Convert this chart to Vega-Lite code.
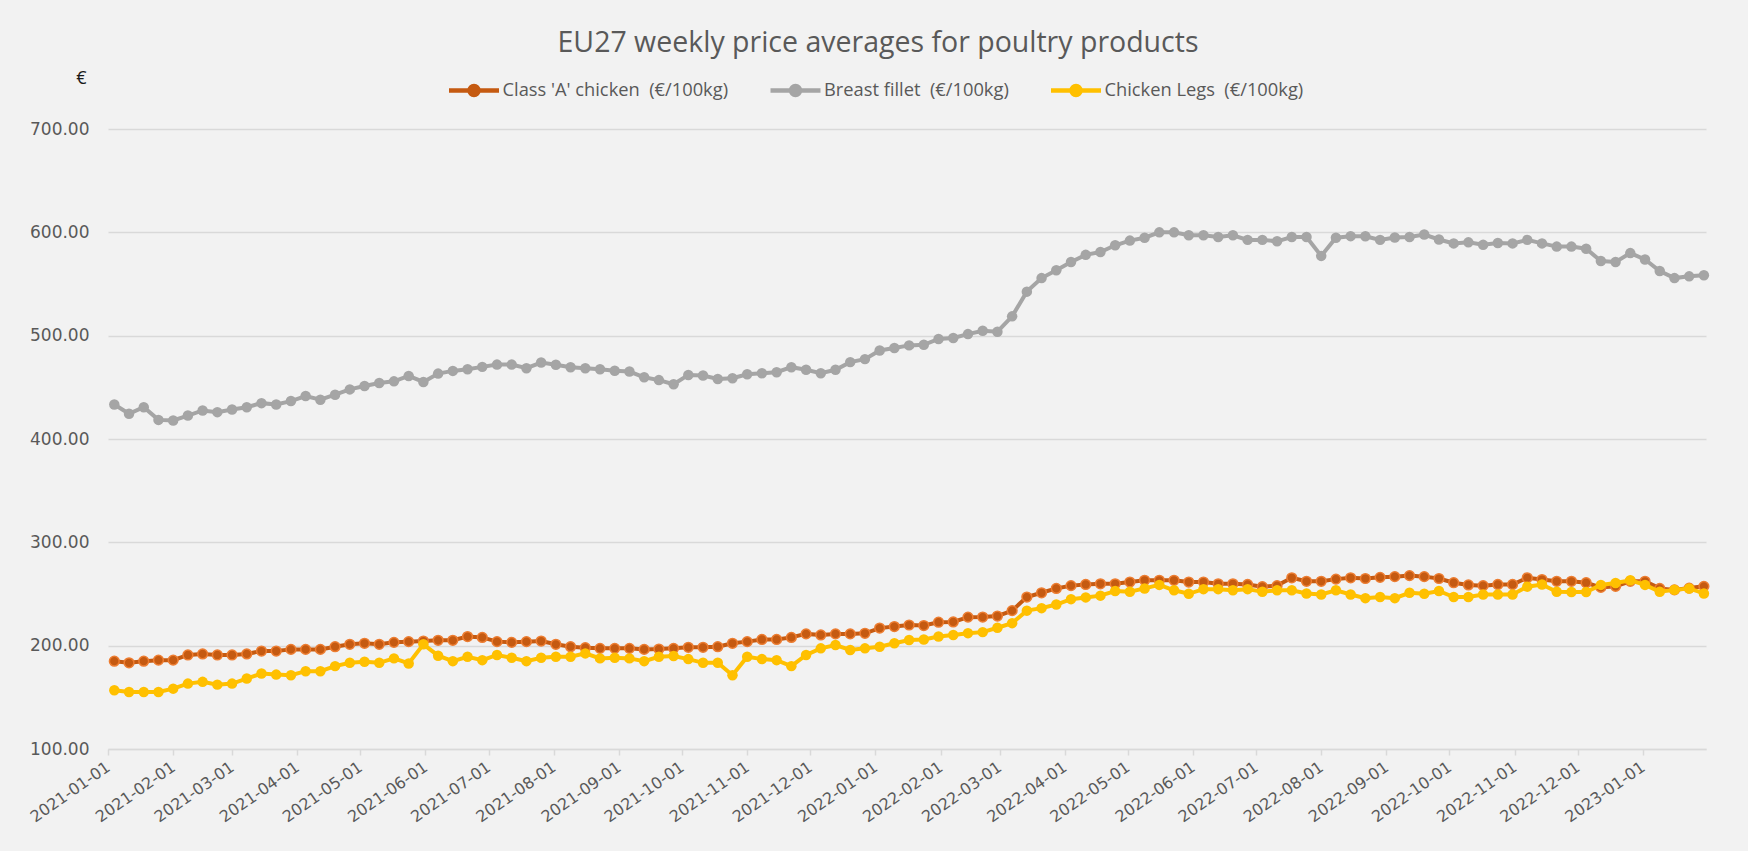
{
  "$schema": "https://vega.github.io/schema/vega-lite/v6.json",
  "width": 1598,
  "height": 620,
  "autosize": {"type": "none"},
  "padding": {"left": 108, "top": 129, "right": 42, "bottom": 102},
  "background": "#F2F2F2",
  "config": {
    "font": "Open Sans",
    "view": {"stroke": null}
  },
  "title": {
    "text": "EU27 weekly price averages for poultry products",
    "fontSize": 28.5,
    "fontWeight": "normal",
    "color": "#595959",
    "anchor": "middle",
    "frame": "group",
    "dx": -29,
    "offset": 6
  },
  "data": {
    "values": [
      {"d": "2021-01-04", "a": 185.0, "b": 433.4, "c": 156.8},
      {"d": "2021-01-11", "a": 183.4, "b": 424.4, "c": 155.2},
      {"d": "2021-01-18", "a": 185.0, "b": 430.8, "c": 155.2},
      {"d": "2021-01-25", "a": 186.0, "b": 418.5, "c": 155.2},
      {"d": "2021-02-01", "a": 186.0, "b": 417.9, "c": 158.4},
      {"d": "2021-02-08", "a": 191.0, "b": 422.7, "c": 163.3},
      {"d": "2021-02-15", "a": 192.0, "b": 427.6, "c": 165.0},
      {"d": "2021-02-22", "a": 191.0, "b": 426.0, "c": 162.3},
      {"d": "2021-03-01", "a": 191.0, "b": 428.6, "c": 163.3},
      {"d": "2021-03-08", "a": 192.0, "b": 430.8, "c": 168.2},
      {"d": "2021-03-15", "a": 194.8, "b": 434.7, "c": 173.0},
      {"d": "2021-03-22", "a": 194.8, "b": 433.4, "c": 172.0},
      {"d": "2021-03-29", "a": 196.4, "b": 436.7, "c": 171.4},
      {"d": "2021-04-05", "a": 196.4, "b": 441.6, "c": 175.3},
      {"d": "2021-04-12", "a": 196.4, "b": 438.0, "c": 175.3},
      {"d": "2021-04-19", "a": 199.0, "b": 442.9, "c": 180.2},
      {"d": "2021-04-26", "a": 201.3, "b": 448.0, "c": 183.4},
      {"d": "2021-05-03", "a": 202.3, "b": 451.3, "c": 184.4},
      {"d": "2021-05-10", "a": 201.3, "b": 454.2, "c": 183.4},
      {"d": "2021-05-17", "a": 203.2, "b": 455.8, "c": 187.7},
      {"d": "2021-05-24", "a": 203.9, "b": 461.0, "c": 182.8},
      {"d": "2021-05-31", "a": 204.5, "b": 455.2, "c": 201.3},
      {"d": "2021-06-07", "a": 205.2, "b": 463.3, "c": 190.3},
      {"d": "2021-06-14", "a": 205.2, "b": 465.9, "c": 185.0},
      {"d": "2021-06-21", "a": 208.8, "b": 467.5, "c": 189.3},
      {"d": "2021-06-28", "a": 208.0, "b": 469.8, "c": 186.0},
      {"d": "2021-07-05", "a": 203.9, "b": 472.0, "c": 191.0},
      {"d": "2021-07-12", "a": 203.2, "b": 472.0, "c": 188.3},
      {"d": "2021-07-19", "a": 203.9, "b": 468.5, "c": 185.0},
      {"d": "2021-07-26", "a": 204.5, "b": 474.0, "c": 188.3},
      {"d": "2021-08-02", "a": 201.3, "b": 471.8, "c": 189.3},
      {"d": "2021-08-09", "a": 199.0, "b": 469.5, "c": 189.3},
      {"d": "2021-08-16", "a": 198.0, "b": 468.5, "c": 192.5},
      {"d": "2021-08-23", "a": 197.4, "b": 467.5, "c": 187.7},
      {"d": "2021-08-30", "a": 197.4, "b": 466.0, "c": 188.3},
      {"d": "2021-09-06", "a": 197.4, "b": 465.3, "c": 187.7},
      {"d": "2021-09-13", "a": 196.4, "b": 459.7, "c": 185.0},
      {"d": "2021-09-20", "a": 196.7, "b": 457.0, "c": 189.3},
      {"d": "2021-09-27", "a": 197.4, "b": 453.0, "c": 190.0},
      {"d": "2021-10-04", "a": 198.4, "b": 462.0, "c": 187.0},
      {"d": "2021-10-11", "a": 198.4, "b": 461.4, "c": 183.4},
      {"d": "2021-10-18", "a": 199.0, "b": 458.0, "c": 183.4},
      {"d": "2021-10-25", "a": 202.3, "b": 458.8, "c": 171.4},
      {"d": "2021-11-01", "a": 203.9, "b": 462.7, "c": 189.3},
      {"d": "2021-11-08", "a": 206.0, "b": 463.6, "c": 187.0},
      {"d": "2021-11-15", "a": 206.0, "b": 464.6, "c": 186.0},
      {"d": "2021-11-22", "a": 208.0, "b": 469.5, "c": 180.2},
      {"d": "2021-11-29", "a": 211.4, "b": 467.0, "c": 191.0},
      {"d": "2021-12-06", "a": 210.4, "b": 463.6, "c": 197.4},
      {"d": "2021-12-13", "a": 211.4, "b": 467.0, "c": 200.6},
      {"d": "2021-12-20", "a": 211.4, "b": 474.4, "c": 195.8},
      {"d": "2021-12-27", "a": 212.0, "b": 477.3, "c": 197.4},
      {"d": "2022-01-03", "a": 217.0, "b": 485.7, "c": 199.0},
      {"d": "2022-01-10", "a": 218.5, "b": 488.0, "c": 202.3},
      {"d": "2022-01-17", "a": 220.0, "b": 490.6, "c": 205.5},
      {"d": "2022-01-24", "a": 219.5, "b": 491.2, "c": 206.0},
      {"d": "2022-01-31", "a": 222.7, "b": 496.8, "c": 208.8},
      {"d": "2022-02-07", "a": 223.0, "b": 497.7, "c": 210.4},
      {"d": "2022-02-14", "a": 227.6, "b": 501.5, "c": 212.1},
      {"d": "2022-02-21", "a": 227.7, "b": 504.8, "c": 213.1},
      {"d": "2022-02-28", "a": 228.7, "b": 503.8, "c": 217.3},
      {"d": "2022-03-07", "a": 233.9, "b": 518.7, "c": 221.8},
      {"d": "2022-03-14", "a": 247.0, "b": 542.6, "c": 233.9},
      {"d": "2022-03-21", "a": 251.2, "b": 555.7, "c": 236.3},
      {"d": "2022-03-28", "a": 255.4, "b": 563.3, "c": 239.8},
      {"d": "2022-04-04", "a": 258.1, "b": 571.3, "c": 245.0},
      {"d": "2022-04-11", "a": 259.2, "b": 578.2, "c": 246.7},
      {"d": "2022-04-18", "a": 259.9, "b": 581.0, "c": 248.4},
      {"d": "2022-04-25", "a": 259.9, "b": 587.5, "c": 252.9},
      {"d": "2022-05-02", "a": 261.6, "b": 592.0, "c": 252.2},
      {"d": "2022-05-09", "a": 263.3, "b": 594.8, "c": 255.4},
      {"d": "2022-05-16", "a": 263.3, "b": 600.0, "c": 258.8},
      {"d": "2022-05-23", "a": 263.3, "b": 600.0, "c": 253.6},
      {"d": "2022-05-30", "a": 261.6, "b": 597.2, "c": 250.2},
      {"d": "2022-06-06", "a": 261.6, "b": 597.2, "c": 254.7},
      {"d": "2022-06-13", "a": 259.9, "b": 595.5, "c": 254.7},
      {"d": "2022-06-20", "a": 259.9, "b": 597.2, "c": 253.6},
      {"d": "2022-06-27", "a": 259.2, "b": 592.7, "c": 254.7},
      {"d": "2022-07-04", "a": 257.1, "b": 592.7, "c": 252.2},
      {"d": "2022-07-11", "a": 258.1, "b": 591.3, "c": 253.6},
      {"d": "2022-07-18", "a": 265.7, "b": 595.5, "c": 253.6},
      {"d": "2022-07-25", "a": 262.3, "b": 595.5, "c": 250.5},
      {"d": "2022-08-01", "a": 262.3, "b": 577.2, "c": 249.5},
      {"d": "2022-08-08", "a": 264.4, "b": 594.8, "c": 253.6},
      {"d": "2022-08-15", "a": 265.7, "b": 596.3, "c": 249.5},
      {"d": "2022-08-22", "a": 265.0, "b": 596.2, "c": 246.0},
      {"d": "2022-08-29", "a": 266.1, "b": 592.7, "c": 247.1},
      {"d": "2022-09-05", "a": 266.8, "b": 595.0, "c": 246.0},
      {"d": "2022-09-12", "a": 267.8, "b": 595.5, "c": 251.2},
      {"d": "2022-09-19", "a": 266.8, "b": 597.9, "c": 250.2},
      {"d": "2022-09-26", "a": 265.0, "b": 593.1, "c": 252.9},
      {"d": "2022-10-03", "a": 260.9, "b": 589.3, "c": 247.1},
      {"d": "2022-10-10", "a": 258.8, "b": 590.3, "c": 247.1},
      {"d": "2022-10-17", "a": 258.1, "b": 587.9, "c": 249.5},
      {"d": "2022-10-24", "a": 259.2, "b": 589.6, "c": 249.5},
      {"d": "2022-10-31", "a": 259.2, "b": 589.3, "c": 249.5},
      {"d": "2022-11-07", "a": 265.7, "b": 592.7, "c": 257.1},
      {"d": "2022-11-14", "a": 264.0, "b": 589.3, "c": 259.2},
      {"d": "2022-11-21", "a": 262.3, "b": 586.2, "c": 252.2},
      {"d": "2022-11-28", "a": 262.3, "b": 586.2, "c": 251.9},
      {"d": "2022-12-05", "a": 260.9, "b": 584.1, "c": 251.9},
      {"d": "2022-12-12", "a": 256.4, "b": 572.3, "c": 258.8},
      {"d": "2022-12-19", "a": 257.4, "b": 571.3, "c": 260.6},
      {"d": "2022-12-26", "a": 262.3, "b": 579.9, "c": 263.3},
      {"d": "2023-01-02", "a": 262.3, "b": 573.7, "c": 258.8},
      {"d": "2023-01-09", "a": 255.4, "b": 562.6, "c": 252.2},
      {"d": "2023-01-16", "a": 254.0, "b": 555.7, "c": 254.0},
      {"d": "2023-01-23", "a": 255.7, "b": 557.4, "c": 255.4},
      {"d": "2023-01-30", "a": 257.4, "b": 558.5, "c": 250.5}
    ]
  },
  "transform": [{"fold": ["a", "b", "c"], "as": ["s", "v"]}],
  "encoding": {
    "x": {
      "field": "d",
      "type": "temporal",
      "scale": {
        "type": "utc",
        "domain": [
          {"year": 2021, "month": 1, "date": 1, "utc": true},
          {"year": 2023, "month": 1, "date": 31, "utc": true}
        ],
        "nice": false
      },
      "axis": {
        "title": null,
        "format": "%Y-%m-%d",
        "tickCount": {"interval": "month", "step": 1},
        "labelAngle": -35,
        "labelAlign": "right",
        "labelBaseline": "middle",
        "labelFont": "DejaVu Sans",
        "labelFontSize": 16,
        "labelColor": "#595959",
        "labelPadding": 10,
        "labelOverlap": false,
        "labelBound": false,
        "labelFlush": false,
        "grid": false,
        "domainColor": "#D9D9D9",
        "domainWidth": 1.5,
        "tickColor": "#D9D9D9",
        "tickWidth": 1.5,
        "tickSize": 6
      }
    },
    "y": {
      "field": "v",
      "type": "quantitative",
      "scale": {"domain": [100, 700], "nice": false, "zero": false},
      "axis": {
        "title": "€",
        "titleAngle": 0,
        "titleX": -27,
        "titleY": -51,
        "titleAlign": "center",
        "titleBaseline": "middle",
        "titleFontSize": 18,
        "titleFontWeight": "normal",
        "titleColor": "#1a1a1a",
        "values": [100, 200, 300, 400, 500, 600, 700],
        "format": ".2f",
        "labelFont": "DejaVu Sans",
        "labelFontSize": 17,
        "labelColor": "#595959",
        "labelPadding": 19,
        "domain": false,
        "ticks": false,
        "grid": true,
        "gridColor": "#D9D9D9",
        "gridWidth": 1.5
      }
    },
    "color": {
      "field": "s",
      "type": "nominal",
      "scale": {"domain": ["a", "b", "c"], "range": ["#C55A11", "#A5A5A5", "#FFC000"]},
      "legend": {
        "title": null,
        "orient": "none",
        "direction": "horizontal",
        "columns": 3,
        "legendX": 338.5,
        "legendY": -66,
        "columnPadding": 32.5,
        "symbolType": "M-1,0H1M-0.18,0A0.18,0.18,0,1,1,0.18,0A0.18,0.18,0,1,1,-0.18,0Z",
        "symbolSize": 2500,
        "symbolStrokeWidth": 4.5,
        "labelFontSize": 18.3,
        "labelColor": "#595959",
        "labelOffset": 1,
        "labelLimit": 0,
        "labelExpr": "datum.value === 'a' ? \"Class 'A' chicken\u00a0 (€/100kg)\" : datum.value === 'b' ? 'Breast fillet\u00a0 (€/100kg)' : 'Chicken Legs\u00a0 (€/100kg)'",
        "encode": {
          "symbols": {
            "update": {
              "fill": {"scale": "color", "field": "value"},
              "stroke": {"scale": "color", "field": "value"}
            }
          }
        }
      }
    }
  },
  "layer": [
    {"transform": [{"filter": "datum.s === 'a'"}], "mark": {"type": "line", "strokeWidth": 4}},
    {"transform": [{"filter": "datum.s === 'a'"}], "mark": {"type": "point", "filled": true, "size": 95, "opacity": 1, "stroke": "#ED7D31", "strokeWidth": 1.5}},
    {"transform": [{"filter": "datum.s === 'b'"}], "mark": {"type": "line", "strokeWidth": 4}},
    {"transform": [{"filter": "datum.s === 'b'"}], "mark": {"type": "point", "filled": true, "size": 110, "opacity": 1}},
    {"transform": [{"filter": "datum.s === 'c'"}], "mark": {"type": "line", "strokeWidth": 4}},
    {"transform": [{"filter": "datum.s === 'c'"}], "mark": {"type": "point", "filled": true, "size": 110, "opacity": 1}}
  ]
}
